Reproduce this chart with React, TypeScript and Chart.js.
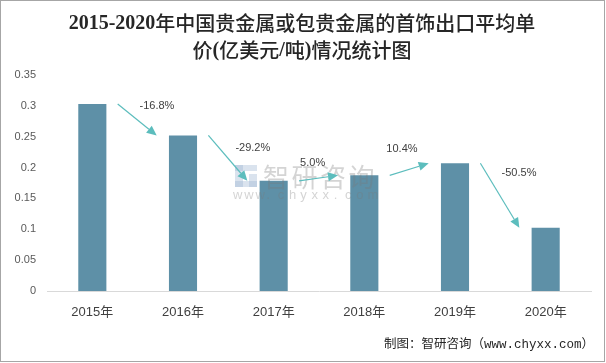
import React, { useEffect, useRef } from "react";
import { Chart, registerables } from "chart.js";

Chart.register(...registerables);

const categories = ["2015年", "2016年", "2017年", "2018年", "2019年", "2020年"];
const prices = [0.303, 0.252, 0.1785, 0.1874, 0.2069, 0.1024];
const growthLabels = ["-16.8%", "-29.2%", "5.0%", "10.4%", "-50.5%"];
const yTicks = [0, 0.05, 0.1, 0.15, 0.2, 0.25, 0.3, 0.35];
const titleLines = ["2015-2020年中国贵金属或包贵金属的首饰出口平均单", "价(亿美元/吨)情况统计图"];
const sourceText = "制图：智研咨询（www.chyxx.com）";

// label anchor positions in data units (category index, value)
const labelIdx = [0.713, 1.77, 2.43, 3.415, 4.706];
const labelVal = [0.3, 0.2317, 0.2074, 0.23, 0.191];

const BAR = "#5e90a7";
const TEAL = "#5cbdbd";

const LATIN_FONT = "bold 20px 'Liberation Serif'";
const CJK_FONT = "500 20px 'Noto Sans CJK SC'";

function drawMixedCentered(ctx: any, text: string, cx: number, cy: number) {
  const runs: { t: string; latin: boolean }[] = [];
  for (const ch of text) {
    const latin = ch.charCodeAt(0) < 128;
    const last = runs[runs.length - 1];
    if (last && last.latin === latin) last.t += ch;
    else runs.push({ t: ch, latin });
  }
  let total = 0;
  const widths = runs.map((r) => {
    ctx.font = r.latin ? LATIN_FONT : CJK_FONT;
    const w = ctx.measureText(r.t).width;
    total += w;
    return w;
  });
  let x = cx - total / 2;
  ctx.textAlign = "left";
  ctx.textBaseline = "middle";
  runs.forEach((r, i) => {
    ctx.font = r.latin ? LATIN_FONT : CJK_FONT;
    ctx.fillText(r.t, x, cy + (r.latin ? 1 : 0));
    x += widths[i];
  });
}

const decorPlugin = {
  id: "decor",
  beforeDraw(chart: any) {
    const ctx = chart.ctx;
    ctx.save();
    ctx.fillStyle = "#ffffff";
    ctx.fillRect(0, 0, chart.width, chart.height);
    ctx.restore();
  },
  afterDatasetsDraw(chart: any) {
    const ctx = chart.ctx;
    const xs = chart.scales.x;
    const ys = chart.scales.y;
    ctx.save();
    // watermark
    ctx.fillStyle = "rgba(150,175,205,0.35)";
    ctx.fillRect(235, 165, 8, 22);
    ctx.fillRect(235, 165, 22, 6);
    ctx.fillRect(249, 174, 8, 13);
    ctx.fillRect(235, 181, 22, 6);
    ctx.fillStyle = "rgba(120,120,120,0.32)";
    ctx.font = "26px 'Noto Sans CJK SC'";
    ctx.textBaseline = "middle";
    ctx.textAlign = "left";
    const wm = "智研咨询";
    for (let i = 0; i < wm.length; i++) ctx.fillText(wm[i], 263 + i * 28.5, 177);
    ctx.font = "13px 'Liberation Sans'";
    const url = "www.chyxx.com";
    for (let i = 0; i < url.length; i++) ctx.fillText(url[i], 233 + i * 11.2, 195);

    // arrows
    ctx.strokeStyle = TEAL;
    ctx.fillStyle = TEAL;
    ctx.lineWidth = 1.2;
    for (let i = 0; i < prices.length - 1; i++) {
      const x1 = xs.getPixelForValue(i + 0.28);
      const y1 = ys.getPixelForValue(prices[i]);
      const x2 = xs.getPixelForValue(i + 0.71);
      const y2 = ys.getPixelForValue(prices[i + 1]);
      const a = Math.atan2(y2 - y1, x2 - x1);
      const len = 10;
      const hw = 4.5;
      const bx = x2 - len * Math.cos(a);
      const by = y2 - len * Math.sin(a);
      ctx.beginPath();
      ctx.moveTo(x1, y1);
      ctx.lineTo(bx, by);
      ctx.stroke();
      ctx.beginPath();
      ctx.moveTo(x2, y2);
      ctx.lineTo(bx + hw * Math.sin(a), by - hw * Math.cos(a));
      ctx.lineTo(bx - hw * Math.sin(a), by + hw * Math.cos(a));
      ctx.closePath();
      ctx.fill();
    }
    // growth labels
    ctx.fillStyle = "#404040";
    ctx.font = "11px 'Liberation Sans'";
    ctx.textAlign = "center";
    ctx.textBaseline = "middle";
    growthLabels.forEach((t, i) => {
      ctx.fillText(t, xs.getPixelForValue(labelIdx[i]), ys.getPixelForValue(labelVal[i]));
    });
    ctx.restore();
  },
  afterDraw(chart: any) {
    const ctx = chart.ctx;
    ctx.save();
    // title
    ctx.fillStyle = "#262626";
    drawMixedCentered(ctx, titleLines[0], 302, 23);
    drawMixedCentered(ctx, titleLines[1], 302, 50);
    // source
    ctx.font = "12.5px 'Liberation Mono', 'Noto Sans CJK SC'";
    ctx.textAlign = "right";
    ctx.textBaseline = "middle";
    ctx.fillStyle = "#262626";
    ctx.fillText(sourceText, 594, 345);
    // border
    ctx.strokeStyle = "#a6a6a6";
    ctx.lineWidth = 1;
    ctx.strokeRect(0.5, 0.5, 604, 361);
    ctx.restore();
  },
};

export default function App() {
  const ref = useRef<HTMLCanvasElement>(null);
  useEffect(() => {
    if (!ref.current) return;
    const chart = new Chart(ref.current, {
      type: "bar",
      data: {
        labels: categories,
        datasets: [
          {
            data: prices,
            backgroundColor: BAR,
            borderWidth: 0,
            barPercentage: 0.31,
            categoryPercentage: 1,
          },
        ],
      },
      options: {
        responsive: false,
        animation: false,
        devicePixelRatio: 1,
        layout: { padding: { left: 0, right: 15, top: 75, bottom: 0 } },
        plugins: {
          legend: { display: false },
          title: { display: false },
          tooltip: { enabled: false },
        },
        scales: {
          x: {
            grid: { display: false, drawTicks: false },
            border: { display: true, color: "#d9d9d9", width: 1 },
            ticks: {
              color: "#404040",
              font: { size: 13, family: "'Liberation Sans', 'Noto Sans CJK SC'" },
              padding: 14,
              maxRotation: 0,
            },
            afterFit: (s: any) => {
              s.height = 72;
            },
          },
          y: {
            min: 0,
            max: 0.35,
            afterBuildTicks: (s: any) => {
              s.ticks = yTicks.map((v) => ({ value: v }));
            },
            grid: { display: false, drawTicks: false },
            border: { display: false },
            ticks: {
              color: "#595959",
              font: { size: 11, family: "'Liberation Sans'" },
              padding: 11,
              callback: (v: any) => String(Number(v.toFixed(2))),
            },
            afterFit: (s: any) => {
              s.width = 47;
            },
          },
        },
      },
      plugins: [decorPlugin],
    });
    return () => chart.destroy();
  }, []);
  return (
    <div style={{ position: "fixed", left: 0, top: 0, width: 606, height: 363 }}>
      <canvas ref={ref} width={606} height={363} style={{ width: 606, height: 363, display: "block" }} />
    </div>
  );
}
